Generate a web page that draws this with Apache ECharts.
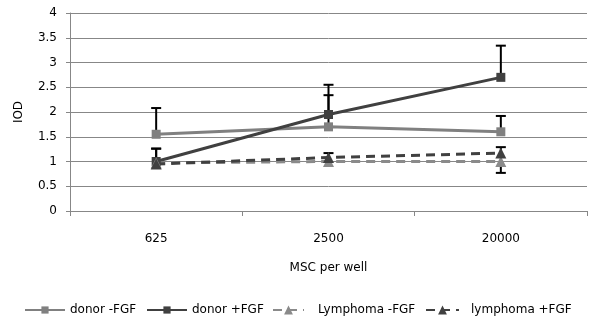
<!DOCTYPE html>
<html>
<head>
<meta charset="utf-8">
<script src="https://cdn.jsdelivr.net/npm/echarts@6/dist/echarts.min.js"></script>
<style>
  html, body { margin: 0; padding: 0; background: #fff; }
</style>
</head>
<body>
<div id="iodChart" style="width:600px;height:323px;"></div>
<script>
  // categories on x axis
  var cellCounts = ['625', '2500', '20000']
  // series values (IOD)
  var donorMinus = [1.55, 1.70, 1.60]
  var donorPlus = [1.00, 1.95, 2.70]
  var lymphMinus = [0.97, 1.00, 1.00]
  var lymphPlus = [0.95, 1.08, 1.17]
  // error bar ends
  var donorMinusErr = [2.08, 2.34, 1.92]
  var donorPlusErr = [1.26, 2.55, 3.34]
  var lymphMinusErr = [0.97, 1.00, 0.77]
  var lymphPlusErr = [1.26, 1.17, 1.29]

  var labelFont = 'DejaVu Sans'

  function errData(vals, ends) {
    var out = []
    for (var i = 0; i < vals.length; i++) {
      if (ends[i] !== vals[i]) out.push([i, vals[i], ends[i]])
    }
    return out
  }

  function errSeries(vals, ends) {
    return {
      type: 'custom',
      silent: true,
      z: 1,
      data: errData(vals, ends),
      renderItem: function (params, api) {
        var p0 = api.coord([api.value(0), api.value(1)])
        var p1 = api.coord([api.value(0), api.value(2)])
        var half = 5
        var st = { stroke: '#000', lineWidth: 2 }
        return {
          type: 'group',
          children: [
            { type: 'line', shape: { x1: p0[0], y1: p0[1], x2: p1[0], y2: p1[1] }, style: st },
            { type: 'line', shape: { x1: p1[0] - half, y1: p1[1], x2: p1[0] + half, y2: p1[1] }, style: st }
          ]
        }
      }
    }
  }

  function lineSeries(name, data, color, symbol, size, dashed) {
    return {
      name: name,
      type: 'line',
      data: data,
      z: 3,
      symbol: symbol,
      symbolSize: size,
      showSymbol: true,
      itemStyle: { color: color, borderWidth: 0 },
      lineStyle: { color: color, width: 3, type: dashed ? [9, 6] : 'solid' },
      emphasis: { disabled: true }
    }
  }

  // one legend per entry so each can sit where the reference has it
  function legendItem(name, left, width, height, pad) {
    return {
      left: left,
      top: 304,
      padding: 0,
      itemWidth: width,
      itemHeight: height,
      textStyle: { fontFamily: labelFont, fontSize: 12, color: '#000', padding: [0, 0, 0, pad] },
      data: [name]
    }
  }

  var chart = echarts.init(document.getElementById('iodChart'))
  var option = {
    animation: false,
    textStyle: { fontFamily: labelFont },
    grid: { left: 70, right: 13, top: 13, bottom: 112 },
    legend: [
      legendItem('donor -FGF', 24, 40, 9, 0),
      legendItem('donor +FGF', 146, 40, 9, 0),
      legendItem('Lymphoma -FGF', 272, 31, 11, 9),
      legendItem('lymphoma +FGF', 425, 33, 11, 7)
    ],
    xAxis: {
      type: 'category',
      data: cellCounts,
      name: 'MSC per well',
      nameLocation: 'middle',
      nameGap: 51,
      nameTextStyle: { fontFamily: labelFont, fontSize: 12, color: '#000' },
      axisLine: { lineStyle: { color: '#878787', width: 1 } },
      axisTick: { show: true, length: 5, lineStyle: { color: '#878787' } },
      axisLabel: { margin: 22, fontFamily: labelFont, fontSize: 12, color: '#000' },
      splitLine: { show: false }
    },
    yAxis: {
      type: 'value',
      min: 0,
      max: 4,
      interval: 0.5,
      name: 'IOD',
      nameLocation: 'middle',
      nameGap: 45,
      nameTextStyle: { fontFamily: labelFont, fontSize: 12, color: '#000' },
      axisLine: { show: true, lineStyle: { color: '#878787', width: 1 } },
      axisTick: { show: true, length: 4, lineStyle: { color: '#878787' } },
      axisLabel: { margin: 13, fontFamily: labelFont, fontSize: 12, color: '#000' },
      splitLine: { lineStyle: { color: '#878787', width: 1 } }
    },
    series: [
      errSeries(donorMinus, donorMinusErr),
      errSeries(donorPlus, donorPlusErr),
      errSeries(lymphMinus, lymphMinusErr),
      errSeries(lymphPlus, lymphPlusErr),
      lineSeries('donor -FGF', donorMinus, '#808080', 'rect', 9, false),
      lineSeries('donor +FGF', donorPlus, '#404040', 'rect', 9, false),
      lineSeries('Lymphoma -FGF', lymphMinus, '#8a8a8a', 'triangle', 11, true),
      lineSeries('lymphoma +FGF', lymphPlus, '#404040', 'triangle', 11, true)
    ]
  }
  chart.setOption(option)
</script>
</body>
</html>
